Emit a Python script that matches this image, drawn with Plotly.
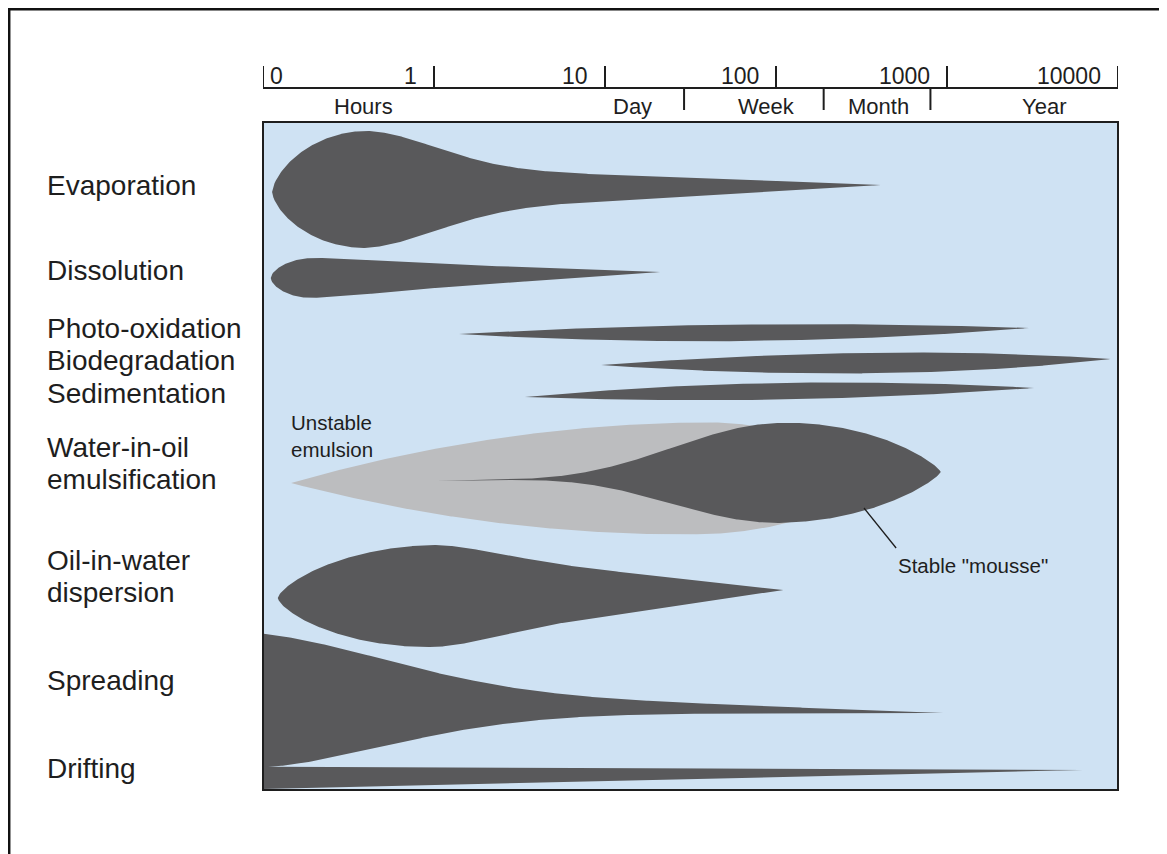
import numpy as np
import plotly.graph_objects as go

# --- processes drawn as blobs along a log time axis (hours) ---
# rows are measured downward from the top of the blue panel
PROCESS = ["Evaporation", "Dissolution", "Photo-oxidation", "Biodegradation",
           "Sedimentation", "Unstable emulsion", "Stable mousse",
           "Oil-in-water dispersion", "Spreading", "Drifting"]
ONSET_H = [0.113, 0.111, 1.4, 9.5, 3.4, 0.146, 1.04, 0.122, 0.06, 0.06]
PEAK_H = [0.40, 0.196, 65, 414, 105, 36, 107, 1.01, 0.1, 0.1]
END_H = [410, 21, 3020, 9100, 3230, 540, 920, 110, 950, 6240]
ROW_START = [70, 156, 212, 243, 275, 361, 359, 476, 578, 656]
ROW_END = [63, 150, 206, 237, 266, 354, 350, 468, 591, 648]
REACH_UP = [60, 19.4, 6.5, 9, 9.5, 56, 52, 50.5, 67, 11]
REACH_DOWN = [57, 20.6, 10, 11.5, 7, 56, 48, 51.5, 67, 12]

# outline character of each blob: front roundness, back taper
FRONT_POW = [0.65, 0.6, 1.0, 1.0, 1.0, 1.0, 5.5, 0.7, 0.5, 0.5]
BACK_ORDER = [1.2, 1.2, 2, 2, 2, 2, 2, 1.3, 1, 1]
BACK_POW = [1, 1, 1.0, 1.0, 1.0, 1.0, 0.8, 1, 1, 1]
TAIL_FLOOR = [0.37, 0.8, 1, 1, 1, 1, 1, 0.72, 0.2, 1]
TAIL_WIDTH = [0.21, 0.3, 1, 1, 1, 1, 1, 0.3, 0.32, 1]

ROW_LABELS = ["Evaporation", "Dissolution", "Photo-oxidation", "Biodegradation",
              "Sedimentation", "Water-in-oil", "emulsification", "Oil-in-water",
              "dispersion", "Spreading", "Drifting"]
ROW_LABEL_Y = [63, 148, 206, 238, 271, 325, 357, 438, 470, 558, 646]

TICK_HOURS = [0.1, 1, 10, 100, 1000, 10000]
TICK_TEXT = ["0", "1", "10", "100", "1000", "10000"]
PERIOD_EDGE_H = [29, 190, 800]
PERIOD_LABELS = ["Hours", "Day", "Week", "Month", "Year"]
PERIOD_LABEL_H = [0.385, 14.4, 88, 400, 3700]

MOUSSE_POINTER_H = [327, 504]
MOUSSE_POINTER_Y = [386, 426]

DARK = "#59595b"
GREY = "#bcbdbf"
PANEL = "#cfe2f3"
INK = "#1e1e1e"
FONT = "Liberation Sans, Arial, sans-serif"

# page coordinates of the blue panel; the browser body adds an 8px margin
PAGE_W, PAGE_H, BODY = 1167, 854, 8
L, R, T, B = 263, 1118, 122, 790
W, H = PAGE_W - BODY, PAGE_H - BODY


def py(p):
    return (B - p) / (B - T)


def px(p):
    return (p - L) / (R - L)


def profile(t, t0, tp, t1, e, a, m, f, sig):
    p = np.zeros_like(t)
    front = t <= tp
    u = (t[front] - t0) / (tp - t0)
    p[front] = (1 - (1 - u) ** 2) ** e
    s = (t[~front] - tp) / (t1 - tp)
    p[~front] = (1 - s ** a) ** m * (f + (1 - f) * np.exp(-(s / sig) ** 2))
    return np.clip(p, 0, None)


fig = go.Figure()

for i, name in enumerate(PROCESS):
    t0, tp, t1 = np.log10([ONSET_H[i], PEAK_H[i], END_H[i]])
    t = np.linspace(t0, t1, 500)
    p = profile(t, t0, tp, t1, FRONT_POW[i], BACK_ORDER[i], BACK_POW[i],
                TAIL_FLOOR[i], TAIL_WIDTH[i])
    centre = ROW_START[i] + (ROW_END[i] - ROW_START[i]) * (t - t0) / (t1 - t0)
    upper = centre - REACH_UP[i] * p
    lower = centre + REACH_DOWN[i] * p
    xs = np.concatenate([10 ** t, 10 ** t[::-1]])
    ys = np.concatenate([upper, lower[::-1]])
    fig.add_trace(go.Scatter(
        x=xs, y=ys, mode="lines", fill="toself",
        fillcolor=GREY if name == "Unstable emulsion" else DARK,
        line=dict(width=0), name=name, hoverinfo="skip", showlegend=False))

fig.add_trace(go.Scatter(x=MOUSSE_POINTER_H, y=MOUSSE_POINTER_Y, mode="lines",
                         line=dict(color=INK, width=1.3), hoverinfo="skip",
                         showlegend=False))

shapes = []
# top time scale
shapes.append(dict(type="line", xref="x", yref="paper", x0=TICK_HOURS[0], x1=TICK_HOURS[-1],
                   y0=py(88), y1=py(88), line=dict(color=INK, width=2)))
for h in TICK_HOURS:
    shapes.append(dict(type="line", xref="x", yref="paper", x0=h, x1=h,
                       y0=py(88), y1=py(66), line=dict(color=INK, width=2)))
for h in PERIOD_EDGE_H:
    shapes.append(dict(type="line", xref="x", yref="paper", x0=h, x1=h,
                       y0=py(88), y1=py(110), line=dict(color=INK, width=2)))
# panel border and outer frame
shapes.append(dict(type="rect", xref="paper", yref="paper", x0=0, x1=1, y0=0, y1=1,
                   line=dict(color=INK, width=2), layer="above"))
shapes.append(dict(type="rect", xref="paper", yref="paper", x0=px(9.2), x1=px(1220),
                   y0=py(900), y1=py(9.2), line=dict(color="#111111", width=2.5)))

ann = []
for h, txt in zip(TICK_HOURS, TICK_TEXT):
    first = txt == "0"
    ann.append(dict(x=np.log10(h), y=py(76), xref="x", yref="paper", text=txt,
                    showarrow=False, xanchor="left" if first else "right",
                    xshift=5 if first else -15, yanchor="middle",
                    font=dict(size=23, color=INK, family=FONT)))
for h, txt in zip(PERIOD_LABEL_H, PERIOD_LABELS):
    ann.append(dict(x=np.log10(h), y=py(106), xref="x", yref="paper", text=txt,
                    showarrow=False, xanchor="center", yanchor="middle",
                    font=dict(size=22, color=INK, family=FONT)))
for y, txt in zip(ROW_LABEL_Y, ROW_LABELS):
    ann.append(dict(x=px(45), y=y, xref="paper", yref="y", text=txt,
                    showarrow=False, xanchor="left", yanchor="middle",
                    font=dict(size=28, color=INK, family=FONT)))
ann.append(dict(x=np.log10(0.142), y=314, xref="x", yref="y",
                text="Unstable<br>emulsion", showarrow=False, align="left",
                xanchor="left", yanchor="middle",
                font=dict(size=20.5, color=INK, family=FONT)))
ann.append(dict(x=np.log10(505), y=443, xref="x", yref="y",
                text='Stable "mousse"', showarrow=False,
                xanchor="left", yanchor="middle",
                font=dict(size=20.5, color=INK, family=FONT)))

fig.update_layout(
    width=W, height=H,
    margin=dict(l=L - BODY, r=W - (R - BODY), t=T - BODY, b=H - (B - BODY)),
    paper_bgcolor="white", plot_bgcolor=PANEL,
    xaxis=dict(type="log", range=[-1, 4], visible=False, fixedrange=True),
    yaxis=dict(range=[B - T, 0], visible=False, fixedrange=True),
    shapes=shapes, annotations=ann, showlegend=False,
)

fig.write_html("out.html")
